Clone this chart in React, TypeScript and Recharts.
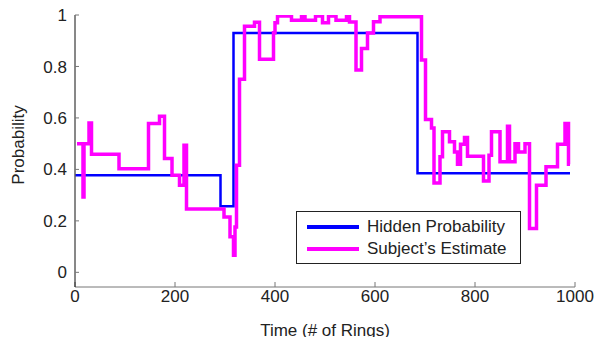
import React from 'react';
import { LineChart, Line, XAxis, YAxis, Legend } from 'recharts';

// hidden probability: step changes (ring index, probability)
const hiddenT = [1, 291, 317, 685, 990];
const hiddenP = [0.377, 0.257, 0.93, 0.385, 0.385];

// subject's estimate: step changes
const estimateT = [
  4, 16, 18, 28, 33, 88, 147, 169, 179, 194, 209, 218, 223, 298, 310, 317, 320, 323, 329, 339,
  359, 369, 397, 400, 405, 433, 453, 460, 481, 495, 507, 522, 543, 549, 562, 573, 585, 597, 610,
  693, 701, 713, 718, 730, 735, 749, 759, 765, 771, 779, 785, 817, 828, 833, 850, 865, 869, 880,
  887, 900, 909, 923, 942, 965, 980, 987, 990,
];
const estimateP = [
  0.5, 0.293, 0.5, 0.58, 0.459, 0.403, 0.578, 0.607, 0.442, 0.377, 0.338, 0.494, 0.246, 0.215,
  0.138, 0.066, 0.176, 0.416, 0.75, 0.956, 0.972, 0.828, 0.931, 0.97, 0.996, 0.98, 0.996, 0.98,
  0.996, 0.97, 0.996, 0.98, 0.996, 0.973, 0.786, 0.87, 0.93, 0.974, 0.993, 0.825, 0.594, 0.561,
  0.347, 0.449, 0.546, 0.507, 0.468, 0.42, 0.498, 0.524, 0.451, 0.355, 0.455, 0.546, 0.43, 0.568,
  0.43, 0.5, 0.468, 0.5, 0.17, 0.338, 0.41, 0.498, 0.578, 0.42, 0.42,
];

const xTicks = [0, 200, 400, 600, 800, 1000];
const yTicks = [0, 0.2, 0.4, 0.6, 0.8, 1];
const yTickLabels = ['0', '0.2', '0.4', '0.6', '0.8', '1'];

const hiddenData = hiddenT.map((t, i) => ({ t, p: hiddenP[i] }));
const estimateData = estimateT.map((t, i) => ({ t, p: estimateP[i] }));

const FONT = '"Liberation Sans", Arial, sans-serif';
const TXT = '#222';

function LegendBox({ payload }: any) {
  return (
    <div
      style={{
        width: 225,
        height: 53,
        boxSizing: 'border-box',
        border: '1px solid #222',
        background: '#fff',
        paddingTop: 4,
        fontFamily: FONT,
        fontSize: 17,
        color: TXT,
      }}
    >
      {(payload || []).map((entry: any) => (
        <div key={entry.value} style={{ display: 'flex', alignItems: 'center', height: 22 }}>
          <div style={{ width: 52, height: 3.5, background: entry.color, marginLeft: 10, marginRight: 8 }} />
          <span>{entry.value}</span>
        </div>
      ))}
    </div>
  );
}

export default function App() {
  return (
    <div style={{ position: 'absolute', left: 0, top: 0, background: '#fff' }}>
      <LineChart width={594} height={337} margin={{ top: 15, right: 19, bottom: 0, left: 0 }}>
        <XAxis
          type="number"
          dataKey="t"
          domain={[0, 1000]}
          ticks={xTicks}
          allowDataOverflow
          height={50}
          stroke="#777"
          tickSize={-5}
          tickMargin={8}
          tick={{ fill: TXT, fontSize: 17, fontFamily: FONT }}
          label={{
            value: 'Time (# of Rings)',
            position: 'insideBottom',
            offset: 1,
            fill: TXT,
            fontSize: 17,
            fontFamily: FONT,
          }}
        />
        <YAxis
          type="number"
          domain={[-0.057, 1]}
          ticks={yTicks}
          allowDataOverflow
          width={75}
          axisLine={{ stroke: '#111' }}
          tickLine={{ stroke: '#777' }}
          tickSize={-4}
          tickMargin={12}
          tickFormatter={(v: number) => yTickLabels[yTicks.indexOf(v)] ?? String(v)}
          tick={{ fill: TXT, fontSize: 17, fontFamily: FONT }}
          label={{
            value: 'Probability',
            angle: -90,
            position: 'center',
            dx: -20,
            dy: -6,
            fill: TXT,
            fontSize: 17,
            fontFamily: FONT,
          }}
        />
        <Legend
          layout="vertical"
          align="center"
          verticalAlign="middle"
          content={<LegendBox />}
          wrapperStyle={{ left: 296, top: 211, width: 225, height: 53 }}
        />
        <Line
          data={hiddenData}
          dataKey="p"
          name="Hidden Probability"
          type="stepAfter"
          stroke="#0000ff"
          strokeWidth={2.5}
          dot={false}
          isAnimationActive={false}
        />
        <Line
          data={estimateData}
          dataKey="p"
          name="Subject’s Estimate"
          type="stepAfter"
          stroke="#ff00ff"
          strokeWidth={3.5}
          dot={false}
          isAnimationActive={false}
        />
      </LineChart>
    </div>
  );
}
